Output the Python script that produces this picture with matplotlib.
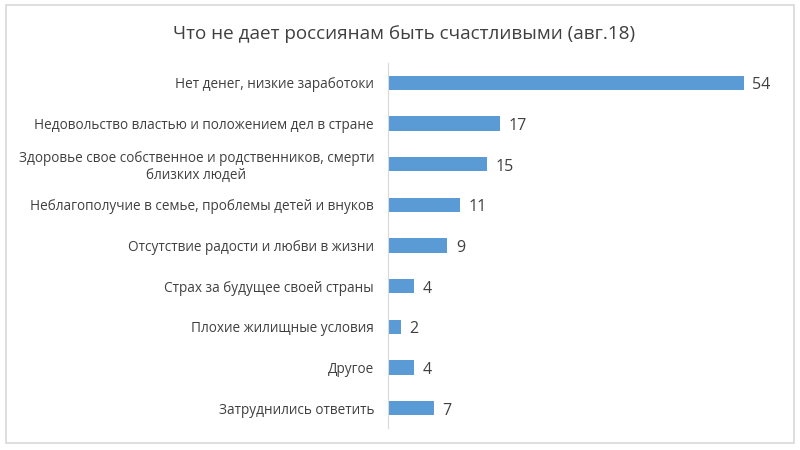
import matplotlib
matplotlib.use("Agg")
import matplotlib.pyplot as plt
from matplotlib.patches import Rectangle
from matplotlib import font_manager

names = {f.name for f in font_manager.fontManager.ttflist}
fam = "Liberation Sans Narrow" if "Liberation Sans Narrow" in names else "Open Sans"
plt.rcParams['font.family'] = [fam, 'DejaVu Sans']

categories = [
    "Нет денег, низкие заработоки",
    "Недовольство властью и положением дел в стране",
    "Здоровье свое собственное и родственников, смерти\nблизких людей",
    "Неблагополучие в семье, проблемы детей и внуков",
    "Отсутствие радости и любви в жизни",
    "Страх за будущее своей страны",
    "Плохие жилищные условия",
    "Другое",
    "Затруднились ответить",
]
values = [54, 17, 15, 11, 9, 4, 2, 4, 7]
title = "Что не дает россиянам быть счастливыми (авг.18)"

fig = plt.figure(figsize=(8, 4.5), dpi=100)
fig.patch.set_facecolor("white")
fig.add_artist(Rectangle((0.007, 0.016), 0.986, 0.972, transform=fig.transFigure,
                         fill=False, edgecolor="#d9d9d9", linewidth=1.2))

ax = fig.add_axes([0.485, 0.048, 0.461, 0.813])
y = list(range(len(categories)))
ax.barh(y, values, height=0.35, color="#5B9BD5")
ax.set_ylim(len(categories) - 0.5, -0.5)
ax.set_xlim(0, 56)
ax.set_yticks(y)
ax.set_yticklabels(categories, fontsize=9.8, color="#404040", multialignment="center")
ax.tick_params(axis="y", length=0, pad=10)
ax.set_xticks([])
for s in ["top", "right", "bottom"]:
    ax.spines[s].set_visible(False)
ax.spines["left"].set_color("#d9d9d9")
for yi, v in zip(y, values):
    ax.text(v + 1.3, yi + 0.06, str(v), va="center", ha="left", fontsize=11.5, color="#404040")

fig.text(0.505, 0.925, title, ha="center", va="center", fontsize=13.6, color="#404040")
fig.savefig("out.png", dpi=100)
